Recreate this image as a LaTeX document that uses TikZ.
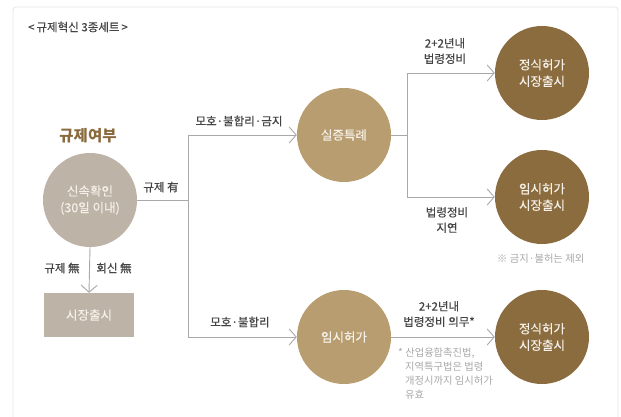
\documentclass[tikz,border=0pt]{standalone}
\usepackage{fontspec}
\setmainfont{Noto Sans CJK KR}
\newfontfamily\medfont[FakeBold=0.35]{Noto Sans CJK KR}
\usetikzlibrary{arrows.meta}
\definecolor{darkbrown}{HTML}{8B6C3E}
\definecolor{tan}{HTML}{B89D70}
\definecolor{greybeige}{HTML}{BDB3A7}
\definecolor{linegrey}{HTML}{A8A8A8}
\definecolor{labelgrey}{HTML}{444444}
\definecolor{notegrey}{HTML}{A9A9A9}
\definecolor{framegrey}{HTML}{E6E6E6}
\definecolor{titlebrown}{HTML}{8A6A3C}
\definecolor{cream}{HTML}{F5F0E8}
\tikzset{
  circ/.style={circle, minimum size=94pt, inner sep=0pt, text=cream, font=\medfont\fontsize{12.5}{16.5}\selectfont, align=center},
  conn/.style={draw=linegrey, line width=0.9pt},
  arr/.style={conn, -{Straight Barb[length=7pt,width=16pt,line width=0.9pt]}},
  lbl/.style={text=labelgrey, font=\medfont\fontsize{11.5}{15.5}\selectfont, align=center, inner sep=0pt},
  note/.style={text=notegrey, font=\fontsize{10.3}{13.8}\selectfont, align=left, inner sep=0pt},
}
\begin{document}
\begin{tikzpicture}[x=1pt,y=-1pt]
\useasboundingbox (0,0) rectangle (621,417);
\clip (0,0) rectangle (621,417);
\fill[white] (0,0) rectangle (621,417);
\draw[framegrey, line width=0.8pt, rounded corners=3pt] (13,7) rectangle (618,440);
\node[anchor=west, text=labelgrey, font=\medfont\fontsize{11.5}{13}\selectfont, inner sep=0pt] (title) at (28,27) {<\,규제혁신 3종세트\,>};
\node[text=titlebrown, font=\fontsize{15.5}{18}\bfseries\selectfont, inner sep=0pt] (head) at (88,136) {규제여부};
% nodes
\node[circ, fill=greybeige] (q) at (90,200) {신속확인\\(30일 이내)};
\node[fill=greybeige, minimum width=90pt, minimum height=44pt, inner sep=0pt, text=cream, font=\medfont\fontsize{12.5}{15}\selectfont] (m) at (89,315) {시장출시};
\node[circ, fill=tan] (s) at (344,135) {실증특례};
\node[circ, fill=tan] (t) at (344,337) {임시허가};
\node[circ, fill=darkbrown] (f1) at (542,73) {정식허가\\시장출시};
\node[circ, fill=darkbrown] (f2) at (542,197) {임시허가\\시장출시};
\node[circ, fill=darkbrown] (f3) at (542,337) {정식허가\\시장출시};
% junctions
\coordinate (j1) at (188,200);
\coordinate (j2) at (407,135);
% connectors
\draw[conn] (q.east) -- (j1);
\draw[arr] (j1) |- (s.west);
\draw[arr] (j1) |- (t.west);
\draw[conn] (s.east) -- (j2);
\draw[arr] (j2) |- (f1.west);
\draw[arr] (j2) |- (f2.west);
\draw[arr] (t.east) -- (f3.west);
\draw[arr] (q.south) -- (m.north);
% labels
\node[lbl] (l1) at (161,187) {규제 有};
\node[lbl] (l2) at (239,121) {모호·불합리·금지};
\node[lbl] (l3) at (240,322) {모호·불합리};
\node[lbl] (l4) at (62,268) {규제 無};
\node[lbl] (l5) at (114,268) {회신 無};
\node[lbl] (l6) at (445,51) {2+2년내\\법령정비};
\node[lbl] (l7) at (447,220) {법령정비\\지연};
\node[lbl] (l8) at (439,314) {2+2년내\\법령정비 의무*};
\node[note, anchor=west] (n1) at (497,259) {※ 금지·불허는 제외};
\node[note, anchor=north west] (n2) at (398,348) {* 산업융합촉진법,\\\hspace*{7pt}지역특구법은 법령\\\hspace*{7pt}개정시까지 임시허가\\\hspace*{7pt}유효};
\end{tikzpicture}
\end{document}
